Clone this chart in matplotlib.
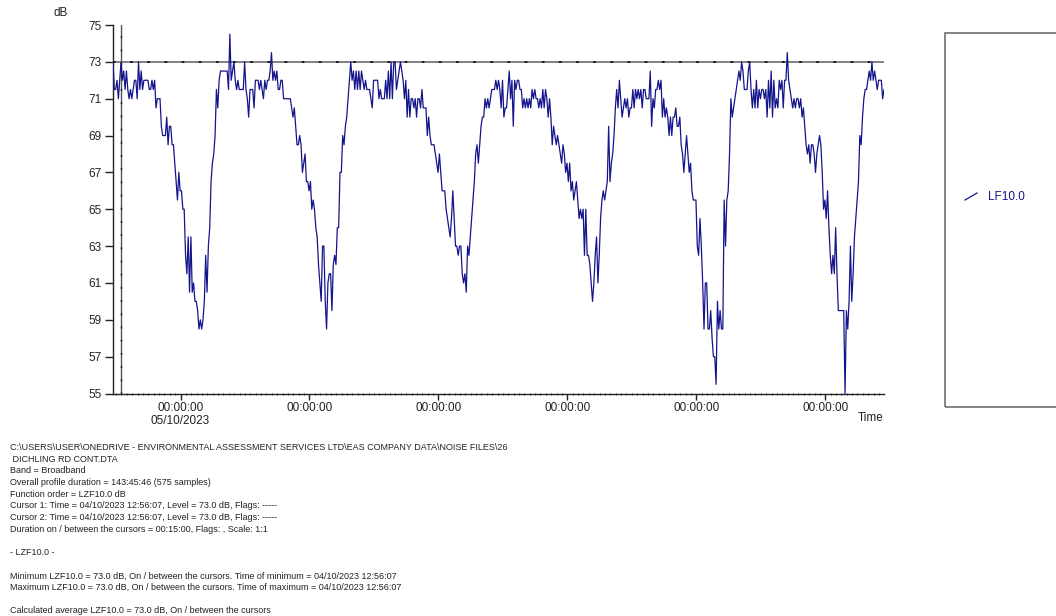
import pandas as pd
import matplotlib
matplotlib.use("Agg")
import matplotlib.pyplot as plt
import matplotlib.dates as mdates
from matplotlib.patches import Rectangle
from matplotlib.lines import Line2D

plt.rcParams['font.family'] = ['Liberation Sans', 'DejaVu Sans']

# LZF10.0 profile, 15 minute samples from 04/10/2023 11:26:07
start_time = "2023-10-04 11:26:07"
sample_step = "15min"

levels_day1 = [
    73, 71.5, 71.5, 72, 71, 72, 73, 72, 72.5, 71.5,
    72.5, 71.5, 71, 71.5, 71, 71.5, 72, 72, 71, 73,
    71.5, 72.5, 71.5, 72, 72, 72, 72, 71.5, 71.5, 72,
    71.5, 72, 70.5, 71, 71, 71, 69.5, 69, 69, 69,
    70, 68.5, 69.5, 69.5, 68.5, 68.5, 67.5, 66.5, 65.5, 67,
    66, 66, 65, 65, 62.5, 61.5, 63.5, 60.5, 63.5, 60.5,
    61, 60, 60, 59.5, 58.5, 59, 58.5, 59, 60, 62.5,
    60.5, 63, 64, 66.5, 67.5, 68, 69, 71.5, 70.5, 72,
    72.5, 72.5, 72.5, 72.5, 72.5, 72.5, 71.5, 74.5, 72, 72.5,
    73, 72, 71.5, 72, 71.5, 71.5, 71.5, 71.5, 73, 71.5,
    71, 70, 71.5, 71.5, 71.5, 70.5, 72, 72, 72, 71.5,
    72, 71.5, 71, 72, 71.5, 72, 72, 72.5, 73.5, 72,
    72.5, 72, 72.5, 71.5, 71.5, 72, 72, 71, 71, 71,
    71, 71, 71, 70.5, 70, 70.5, 69.5, 68.5,
]

levels_day2 = [
    68.5, 69, 68.5, 67, 67.5, 68, 66.5, 66.5, 66, 66.5,
    65, 65.5, 65, 64, 63.5, 62, 61, 60, 63, 63,
    60, 58.5, 61, 61.5, 61.5, 59.5, 62, 62.5, 62, 64,
    64, 67, 67, 69, 68.5, 69.5, 70, 71, 72, 73,
    72, 72.5, 71.5, 72.5, 71.5, 72.5, 71.5, 72.5, 72, 71.5,
    72, 71.5, 71.5, 71.5, 71, 70.5, 72, 72, 72, 72,
    71, 71.5, 71, 71, 71, 72, 71, 72.5, 71, 73,
    71, 73, 73, 71.5, 72, 72.5, 73, 72.5, 72, 71,
    72, 70, 71.5, 70, 71, 71, 70.5, 71, 70, 71,
    71, 70.5, 71.5, 70.5, 70.5, 70.5, 69, 70, 69, 68.5,
    68.5, 68.5, 68, 67.5, 67, 68, 67, 66, 66, 66,
    65, 64.5, 64, 63.5, 64.5, 66, 64.5, 63, 63, 62.5,
    63, 63, 61.5, 61, 61.5, 60.5, 63, 62.5, 63.5, 64.5,
    65.5, 66.5, 68, 68.5, 67.5, 68.5, 69.5, 70, 70, 71,
    70.5,
]

levels_day3 = [
    71, 70.5, 71, 71.5, 71.5, 71.5, 72, 71.5, 72, 71.5,
    70.5, 72, 70, 70.5, 70.5, 71.5, 72.5, 71, 72, 69.5,
    72, 71.5, 72, 72, 71.5, 71.5, 70.5, 71, 70.5, 71,
    70.5, 71, 70.5, 71.5, 71, 71.5, 71, 71, 70.5, 71,
    70.5, 71.5, 70.5, 71.5, 71, 70, 71, 70, 68.5, 69.5,
    69, 68.5, 69, 68.5, 68, 67.5, 68.5, 68, 67, 67.5,
    66.5, 67.5, 66, 66.5, 65.5, 66, 66.5, 65.5, 64.5, 65,
    64.5, 65, 62.5, 65, 62.5, 62.5, 62, 61, 60, 61,
    62.5, 63.5, 61, 62.5, 64.5, 65.5, 66, 65.5, 66, 66.5,
    69.5, 66.5, 67.5, 68, 69, 70.5, 71.5, 70.5, 72, 71,
    70, 70.5, 71, 70.5, 71, 70, 70.5, 70.5, 71.5, 70.5,
    71.5, 71, 71.5, 71, 71.5, 70.5, 71.5, 71.5, 71, 71,
    71, 72.5, 69.5, 71, 70.5, 71.5, 71.5, 72, 71.5, 72,
    70, 71, 70, 70.5, 70, 69, 70, 69, 70, 70,
    70.5, 69.5,
]

levels_day4 = [
    69.5, 70, 68.5, 68, 67, 68, 69, 68, 67, 67.5,
    66, 65.5, 65.5, 65.5, 63, 62.5, 64.5, 63, 61, 58.5,
    61, 61, 58.5, 58.5, 59.5, 58, 57, 57, 55.5, 60,
    58.5, 59.5, 58.5, 58.5, 65.5, 63, 65.5, 66, 68, 71,
    70, 70.5, 71, 71.5, 72, 72.5, 72, 73, 72.5, 71.5,
    71.5, 71.5, 72.5, 73, 71.5, 70.5, 71.5, 70.5, 72, 70.5,
    71.5, 71, 71.5, 71.5, 71, 71.5, 70, 72, 70.5, 72.5,
    70, 72, 70.5, 71, 70.5, 72, 71.5, 72, 70.5, 72,
    72, 73.5, 72, 71.5, 71, 70.5, 71, 70.5, 71, 71,
    70.5, 71, 70, 70.5, 69.5, 68.5, 68, 68.5, 67.5, 68.5,
    68.5, 68, 67, 68, 68.5, 69, 68.5, 67, 65, 65.5,
    64.5, 66, 64, 62.5, 61.5, 62.5, 61.5, 64, 61.5, 59.5,
    59.5, 59.5, 59.5, 59.5, 55, 59.5, 58.5, 60, 63, 60,
    61.5, 63.5, 64.5, 65.5, 66.5, 69, 68.5, 70, 71, 71.5,
    71.5, 72, 72.5, 72, 73, 72, 72.5, 72, 71.5, 72,
    72, 72, 71, 71.5,
]

cursor_time = "2023-10-04 12:56:07"
cursor_level = 73.0
y_ticks = list(range(55, 76, 2))

report_lines = [
    "C:\\USERS\\USER\\ONEDRIVE - ENVIRONMENTAL ASSESSMENT SERVICES LTD\\EAS COMPANY DATA\\NOISE FILES\\26",
    " DICHLING RD CONT.DTA",
    "Band = Broadband",
    "Overall profile duration = 143:45:46 (575 samples)",
    "Function order = LZF10.0 dB",
    "Cursor 1: Time = 04/10/2023 12:56:07, Level = 73.0 dB, Flags: -----",
    "Cursor 2: Time = 04/10/2023 12:56:07, Level = 73.0 dB, Flags: -----",
    "Duration on / between the cursors = 00:15:00, Flags: , Scale: 1:1",
    "",
    "- LZF10.0 -",
    "",
    "Minimum LZF10.0 = 73.0 dB, On / between the cursors. Time of minimum = 04/10/2023 12:56:07",
    "Maximum LZF10.0 = 73.0 dB, On / between the cursors. Time of maximum = 04/10/2023 12:56:07",
    "",
    "Calculated average LZF10.0 = 73.0 dB, On / between the cursors",
]

levels = levels_day1 + levels_day2 + levels_day3 + levels_day4
times = pd.date_range(start_time, periods=len(levels), freq=sample_step)

W, H = 1056, 616
line_col = "#14148c"

fig = plt.figure(figsize=(W / 100, H / 100), dpi=100)
ax = fig.add_axes([113 / W, 1 - 393.5 / H, (884 - 113) / W, (393.5 - 25) / H])

ax.plot(times, levels, color=line_col, lw=0.9, zorder=3)

# cursor lines
ct = pd.Timestamp(cursor_time)
ax.axvline(ct, color="#555555", lw=1.0, zorder=2)
ax.axvline(ct, color="#111111", lw=1.0, ls=(0, (1.5, 8)), zorder=2)
ax.axhline(cursor_level, color="#777777", lw=1.3, zorder=2)
ax.axhline(cursor_level, color="#111111", lw=1.3, ls=(0, (1.5, 8)), zorder=2)

ax.set_xlim(times[0], times[-1])
ax.set_ylim(55, 75)
ax.set_yticks(y_ticks)
ax.set_yticklabels([str(t) for t in y_ticks])

ax.xaxis.set_major_locator(mdates.DayLocator())
ax.xaxis.set_minor_locator(mdates.HourLocator())


def day_label(x, pos):
    d = mdates.num2date(x)
    if pos == 0:
        return "00:00:00\n" + d.strftime("%d/%m/%Y")
    return "00:00:00"


ax.xaxis.set_major_formatter(plt.FuncFormatter(day_label))

ax.spines["top"].set_visible(False)
ax.spines["right"].set_visible(False)
for s in ("left", "bottom"):
    ax.spines[s].set_linewidth(1.0)
    ax.spines[s].set_color("#222222")

ax.tick_params(axis="y", direction="out", length=6, width=1.0, pad=2,
               labelsize=8.5, colors="#222222")
ax.tick_params(axis="x", which="major", direction="out", length=4, width=1.0,
               pad=2, labelsize=8.5, colors="#222222")
ax.tick_params(axis="x", which="minor", direction="inout", length=2, width=0.6,
               colors="#222222")
for lab in ax.get_xticklabels():
    lab.set_linespacing(1.15)

fig.text(53 / W, 1 - 13 / H, "dB", fontsize=8.5, ha="left", va="center", color="#222222")
fig.text(884 / W, 1 - 418 / H, "Time", fontsize=8.5, ha="right", va="center", color="#222222")

# legend panel on the right
fig.add_artist(Rectangle((945 / W, 1 - 407 / H), 0.2, (407 - 33) / H,
                         transform=fig.transFigure, fill=False,
                         edgecolor="#707070", lw=1.2))
fig.add_artist(Line2D([965 / W, 977 / W], [1 - 200 / H, 1 - 193 / H],
                      transform=fig.transFigure, color=line_col, lw=0.9))
fig.text(988 / W, 1 - 197 / H, "LF10.0", fontsize=8.5, color=line_col,
         ha="left", va="center")

# report text under the chart
for k, line in enumerate(report_lines):
    if line:
        fig.text(10 / W, 1 - (447.5 + 11.67 * k) / H, line, fontsize=6.5,
                 ha="left", va="center", color="#222222")

fig.savefig("out.png", dpi=100)
